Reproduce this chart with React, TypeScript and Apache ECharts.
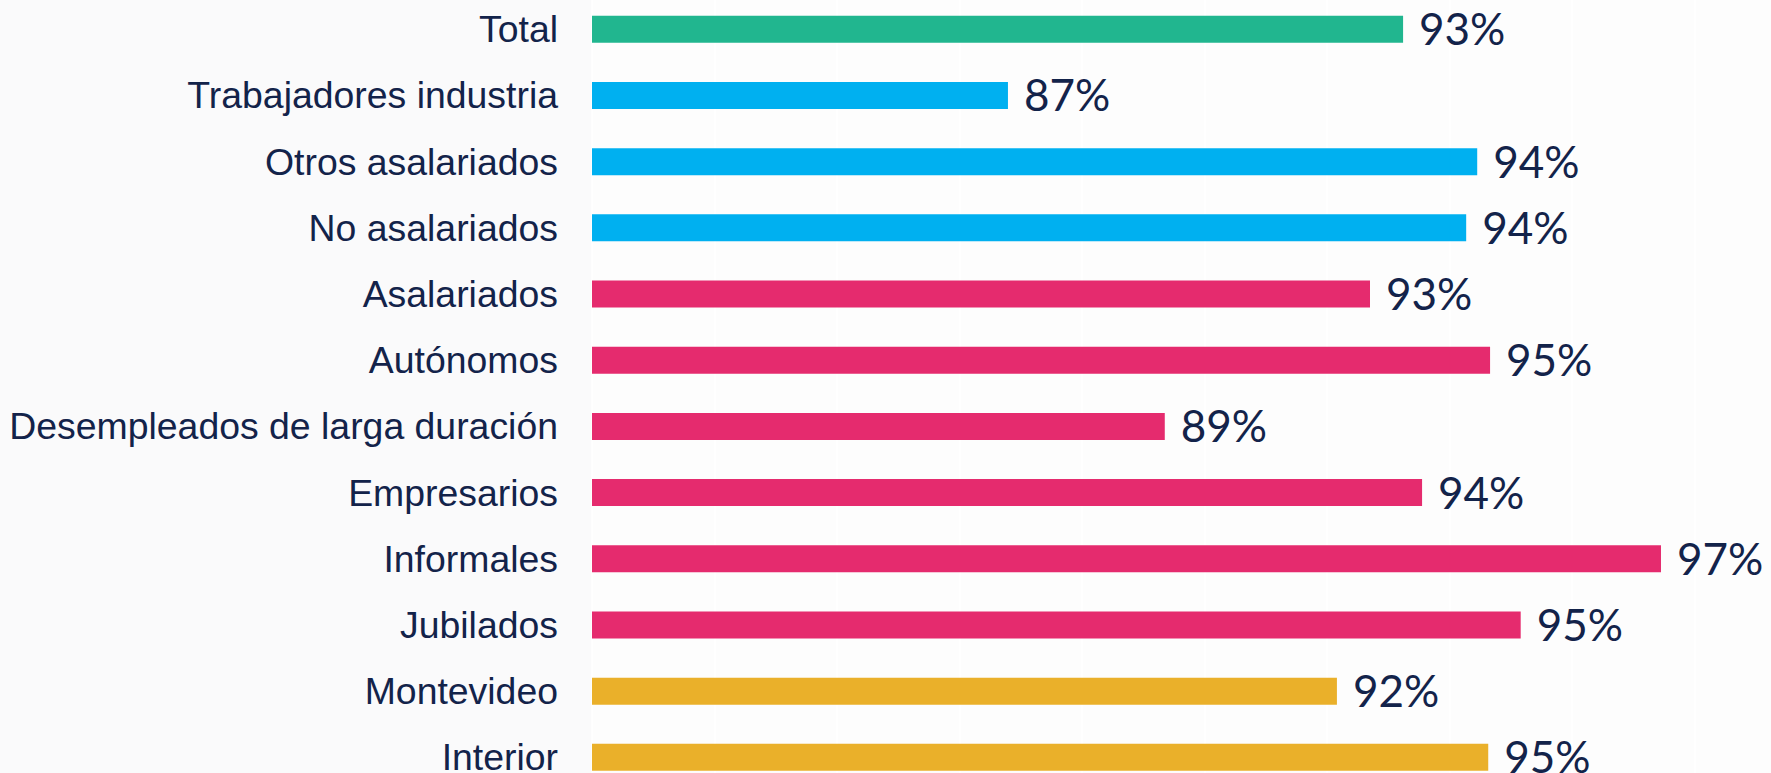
import React, { useEffect, useRef } from "react";
import * as echarts from "echarts";

const categories = [
  "Total",
  "Trabajadores industria",
  "Otros asalariados",
  "No asalariados",
  "Asalariados",
  "Autónomos",
  "Desempleados de larga duración",
  "Empresarios",
  "Informales",
  "Jubilados",
  "Montevideo",
  "Interior",
];

// Percentages (labels show rounded values)
const values = [93.24, 86.79, 94.45, 94.27, 92.7, 94.66, 89.35, 93.55, 97.45, 95.16, 92.16, 94.63];

const groups = [
  "total",
  "sector",
  "sector",
  "sector",
  "condicion",
  "condicion",
  "condicion",
  "condicion",
  "condicion",
  "condicion",
  "region",
  "region",
];

const groupColors: Record<string, string> = {
  total: "#21b68f",
  sector: "#00b0f0",
  condicion: "#e52b6e",
  region: "#eab02a",
};

const axisMin = 80;
const axisMax = 100;
const axisInterval = 2;

export default function App() {
  const ref = useRef<HTMLDivElement>(null);

  useEffect(() => {
    if (!ref.current) return;
    const chart = echarts.init(ref.current, undefined, { renderer: "svg" });
    const data = values.map((v, i) => ({
      value: v,
      itemStyle: { color: groupColors[groups[i]] },
    }));
    chart.setOption({
      animation: false,
      backgroundColor: "#fafafb",
      grid: {
        left: 592,
        top: -3.8,
        width: 1225.2,
        height: 794.2,
        containLabel: false,
        outerBoundsMode: "none",
        show: true,
        backgroundColor: "#fdfdfd",
        borderWidth: 0,
      },
      xAxis: {
        type: "value",
        min: axisMin,
        max: axisMax,
        interval: axisInterval,
        axisLabel: { show: false },
        axisLine: { show: false },
        axisTick: { show: false },
        splitLine: { show: true, lineStyle: { color: "#ffffff", width: 1.5 } },
      },
      yAxis: {
        type: "category",
        data: categories,
        inverse: true,
        axisLine: { show: false },
        axisTick: { show: false },
        axisLabel: {
          margin: 34,
          color: "#13234a",
          fontFamily: "'Liberation Sans', Arial, sans-serif",
          fontSize: 37.4,
        },
      },
      series: [
        {
          type: "bar",
          data,
          barWidth: 27,
          label: {
            show: true,
            position: "right",
            distance: 16,
            color: "#13234a",
            fontFamily: "Lato, sans-serif",
            fontSize: 44,
            fontWeight: 400,
            offset: [0, -1],
            formatter: (p: any) => `${Math.round(p.value)}%`,
          },
        },
      ],
    });
    return () => chart.dispose();
  }, []);

  return (
    <div
      ref={ref}
      style={{ position: "absolute", left: 0, top: 0, width: 1771, height: 773 }}
    />
  );
}
